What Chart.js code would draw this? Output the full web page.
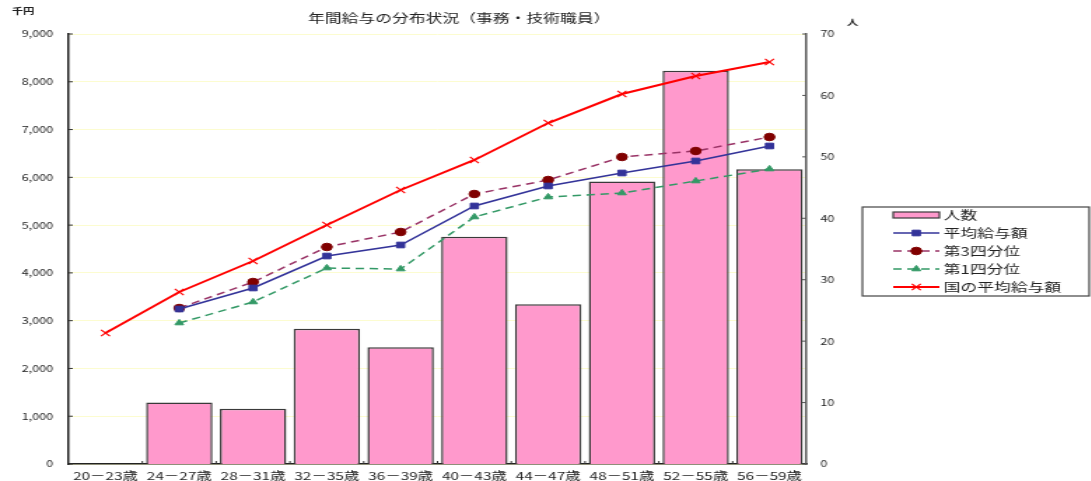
<!DOCTYPE html>
<html><head><meta charset="utf-8">
<script src="https://cdn.jsdelivr.net/npm/chart.js@4"></script>
<style>
html,body{margin:0;padding:0;background:#fff;overflow:hidden;width:1091px;height:481px}
#wrap{width:780px;height:481px;transform:scaleX(1.4);transform-origin:0 0;}
</style></head><body>
<div id="wrap"><canvas id="c" width="780" height="481"></canvas></div>
<script>
const chartTitle = '年間給与の分布状況（事務・技術職員）';
const categories = ['20－23歳','24－27歳','28－31歳','32－35歳','36－39歳','40－43歳','44－47歳','48－51歳','52－55歳','56－59歳'];
const headcount   = [0, 10, 9, 22, 19, 37, 26, 46, 64, 48];
const avgSalary   = [null, 3244, 3684, 4353, 4584, 5400, 5819, 6091, 6342, 6656];
const q3Salary    = [null, 3265, 3809, 4542, 4856, 5651, 5944, 6426, 6551, 6844];
const q1Salary    = [null, 2951, 3391, 4102, 4081, 5170, 5588, 5672, 5923, 6174];
const nationalAvg = [2742, 3600, 4249, 5002, 5735, 6363, 7137, 7744, 8121, 8414];
const leftTicks  = [0,1000,2000,3000,4000,5000,6000,7000,8000,9000];
const rightTicks = [0,10,20,30,40,50,60,70];
const leftUnit = '千円';
const rightUnit = '人';

const FONT = '"Noto Sans CJK JP", "Noto Sans", sans-serif';

const extrasPlugin = {
  id: 'extras',
  afterDraw(chart) {
    const ctx = chart.ctx;
    const ca = chart.chartArea;
    const sy = chart.scales.y, sy2 = chart.scales.y2, sx = chart.scales.x;
    ctx.save();
    ctx.strokeStyle = '#333'; ctx.lineWidth = 1;
    leftTicks.forEach(v => { const y = sy.getPixelForValue(v); ctx.beginPath(); ctx.moveTo(ca.left, y); ctx.lineTo(ca.left + 3, y); ctx.stroke(); });
    ctx.strokeStyle = '#555';
    rightTicks.forEach(v => { const y = sy2.getPixelForValue(v); ctx.beginPath(); ctx.moveTo(ca.right, y); ctx.lineTo(ca.right - 3, y); ctx.stroke(); });
    ctx.strokeStyle = '#333';
    for (let i = 1; i < categories.length; i++) {
      const x = (sx.getPixelForValue(i - 1) + sx.getPixelForValue(i)) / 2;
      ctx.beginPath(); ctx.moveTo(x, ca.bottom); ctx.lineTo(x, ca.bottom - 3); ctx.stroke();
    }
    ctx.fillStyle = '#222';
    ctx.textBaseline = 'middle';
    ctx.textAlign = 'center';
    ctx.font = '12px ' + FONT;
    ctx.fillText(chartTitle, 328, 18);
    ctx.font = 'bold 8px ' + FONT;
    ctx.textAlign = 'left';
    ctx.fillText(leftUnit, 8.5, 10.5);
    ctx.fillText(rightUnit, 605, 21.5);
    const x0 = 616, y0 = 207, x1 = 778, y1 = 296;
    ctx.strokeStyle = '#444'; ctx.lineWidth = 1.2;
    ctx.strokeRect(x0, y0, x1 - x0, y1 - y0);
    const rows = [215, 233, 251, 269, 287];
    const lx0 = 638, lx1 = 671;
    chart.data.datasets.forEach((ds, i) => {
      const y = rows[i];
      if (ds.type === 'bar') {
        ctx.fillStyle = ds.backgroundColor;
        ctx.fillRect(lx0, y - 3, lx1 - lx0, 6);
        ctx.strokeStyle = ds.borderColor; ctx.lineWidth = 1.2;
        ctx.strokeRect(lx0, y - 3, lx1 - lx0, 6);
      } else {
        ctx.strokeStyle = ds.borderColor; ctx.lineWidth = ds.borderWidth;
        ctx.setLineDash(ds.borderDash || []);
        ctx.beginPath(); ctx.moveTo(lx0, y); ctx.lineTo(lx1, y); ctx.stroke();
        ctx.setLineDash([]);
        ctx.fillStyle = ds.pointBackgroundColor; ctx.strokeStyle = ds.pointBorderColor;
        ctx.lineWidth = ds.pointBorderWidth || 1;
        Chart.helpers.drawPoint(ctx, { pointStyle: ds.pointStyle, radius: ds.pointRadius, rotation: 0, borderWidth: ds.pointBorderWidth || 1 }, (lx0 + lx1) / 2, y);
      }
      ctx.fillStyle = '#222';
      ctx.font = '12px ' + FONT;
      ctx.textAlign = 'left'; ctx.textBaseline = 'middle';
      ctx.fillText(ds.label, 674, y);
    });
    ctx.restore();
  }
};

new Chart(document.getElementById('c'), {
  data: {
    labels: categories,
    datasets: [
      { type: 'bar', label: '人数', data: headcount, yAxisID: 'y2', order: 10,
        backgroundColor: '#ff99cc', borderColor: '#3a3a3a', borderWidth: 1.5,
        categoryPercentage: 1, barPercentage: 0.9 },
      { type: 'line', label: '平均給与額', data: avgSalary, yAxisID: 'y', order: 2,
        borderColor: '#333399', borderWidth: 1.5, pointStyle: 'rect', pointRadius: 4,
        pointBackgroundColor: '#333399', pointBorderColor: '#333399', pointBorderWidth: 1 },
      { type: 'line', label: '第3四分位', data: q3Salary, yAxisID: 'y', order: 3,
        borderColor: '#993366', borderWidth: 1.5, borderDash: [6, 4], pointStyle: 'circle', pointRadius: 3.8,
        pointBackgroundColor: '#800000', pointBorderColor: '#800000', pointBorderWidth: 1 },
      { type: 'line', label: '第1四分位', data: q1Salary, yAxisID: 'y', order: 4,
        borderColor: '#339966', borderWidth: 1.5, borderDash: [6, 4], pointStyle: 'triangle', pointRadius: 3.6,
        pointBackgroundColor: '#339966', pointBorderColor: '#339966', pointBorderWidth: 1 },
      { type: 'line', label: '国の平均給与額', data: nationalAvg, yAxisID: 'y', order: 1,
        borderColor: '#ff0000', borderWidth: 2, pointStyle: 'crossRot', pointRadius: 4.5,
        pointBackgroundColor: '#ff0000', pointBorderColor: '#ff0000', pointBorderWidth: 1.2 }
    ]
  },
  options: {
    responsive: false, animation: false, devicePixelRatio: 1,
    layout: { padding: { left: 0, right: 174, top: 34, bottom: 0 } },
    plugins: { legend: { display: false }, title: { display: false }, tooltip: { enabled: false } },
    scales: {
      x: {
        type: 'category', offset: true,
        grid: { display: false, drawTicks: false },
        border: { display: true, color: '#222', width: 1.5 },
        ticks: { autoSkip: false, maxRotation: 0, minRotation: 0, padding: 5, color: '#222', font: { family: FONT, size: 11 } },
        afterFit(s) { s.height = 17; }
      },
      y: {
        position: 'left', min: 0, max: 9000,
        afterBuildTicks(s) { s.ticks = leftTicks.map(v => ({ value: v })); },
        grid: { color: '#fcfcd0', lineWidth: 1, drawTicks: false },
        border: { display: true, color: '#222', width: 1.5 },
        ticks: { padding: 11, color: '#222', font: { family: FONT, size: 9 },
          callback: v => v.toLocaleString('en-US') },
        afterFit(s) { s.width = 49; }
      },
      y2: {
        position: 'right', min: 0, max: 70,
        afterBuildTicks(s) { s.ticks = rightTicks.map(v => ({ value: v })); },
        grid: { display: false, drawTicks: false },
        border: { display: true, color: '#555', width: 1.5 },
        ticks: { padding: 10, color: '#222', font: { family: FONT, size: 9 } },
        afterFit(s) { s.width = 30; }
      }
    }
  },
  plugins: [extrasPlugin]
});
</script>
</body></html>
